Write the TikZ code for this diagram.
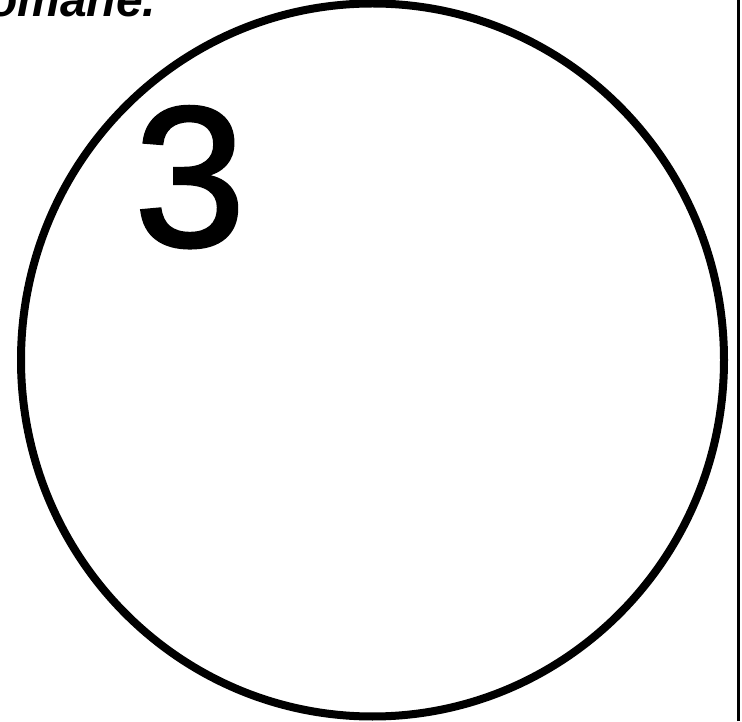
\documentclass[tikz,border=0pt]{standalone}
\usepackage{fontspec}
\setmainfont{Liberation Sans}
\newfontfamily\numfont[FakeBold=1.6]{Liberation Sans}
\tikzset{
  outline/.style={line width=8pt},
  numeral/.style={inner sep=0pt,anchor=base west,font=\numfont\fontsize{200}{200}\selectfont},
}
\begin{document}
\begin{tikzpicture}[x=1pt,y=1pt]
  \useasboundingbox (0,0) rectangle (742,721);
  \clip (0,0) rectangle (742,721);
  \fill[white] (0,0) rectangle (742,721);
  \node[inner sep=0pt,anchor=base west,font=\fontsize{48}{48}\selectfont\bfseries\itshape] (heading) at (-12,704) {omane.};
  \draw[outline] (372.5,361) ellipse [x radius=351.5,y radius=356.5];
  \node[numeral] (digit) at (134,475) {3};
  \draw[line width=3pt] (738,0) -- (738,721);
\end{tikzpicture}
\end{document}
